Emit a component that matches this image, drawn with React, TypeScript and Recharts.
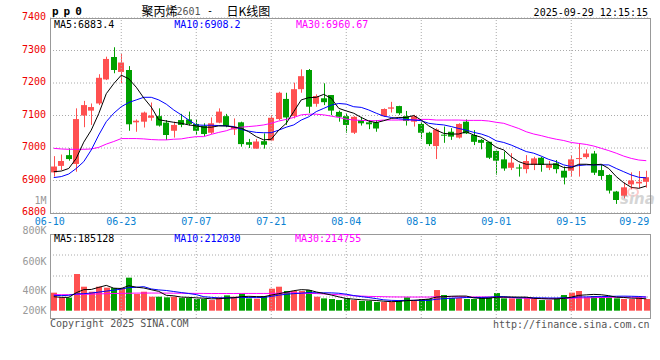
import { ComposedChart, Bar, Line, XAxis, YAxis, CartesianGrid, ReferenceLine } from "recharts"

const dates = [
  "06-10", "06-11", "06-12", "06-13", "06-16", "06-17", "06-18", "06-19", "06-20", "06-23",
  "06-24", "06-25", "06-26", "06-27", "06-30", "07-01", "07-02", "07-03", "07-04", "07-07",
  "07-08", "07-09", "07-10", "07-11", "07-14", "07-15", "07-16", "07-17", "07-18", "07-21",
  "07-22", "07-23", "07-24", "07-25", "07-28", "07-29", "07-30", "07-31", "08-01", "08-04",
  "08-05", "08-06", "08-07", "08-08", "08-11", "08-12", "08-13", "08-14", "08-15", "08-18",
  "08-19", "08-20", "08-21", "08-22", "08-25", "08-26", "08-27", "08-28", "08-29", "09-01",
  "09-02", "09-03", "09-04", "09-05", "09-08", "09-09", "09-10", "09-11", "09-12", "09-15",
  "09-16", "09-17", "09-18", "09-19", "09-22", "09-23", "09-24", "09-25", "09-26", "09-29",
]

const opens = [
  6925, 6945, 6978, 6951, 7100, 7115, 7137, 7211, 7280, 7234,
  7240, 7079, 7081, 7093, 7098, 7078, 7053, 7086, 7088, 7074,
  7068, 7047, 7078, 7098, 7057, 7079, 7018, 6998, 7021, 7023,
  7089, 7151, 7098, 7181, 7240, 7136, 7153, 7163, 7111, 7098,
  7047, 7086, 7079, 7079, 7098, 7121, 7129, 7098, 7081, 7074,
  7047, 7006, 7041, 7050, 7032, 7081, 7040, 7025, 7019, 6991,
  6965, 6939, 6940, 6935, 6948, 6970, 6939, 6953, 6930, 6930,
  6966, 6972, 6983, 6932, 6917, 6866, 6853, 6888, 6891, 6896,
]

const closes = [
  6943, 6960, 6966, 7089, 7132, 7126, 7216, 7274, 7240, 7263,
  7073, 7084, 7109, 7100, 7069, 7040, 7071, 7071, 7074, 7053,
  7043, 7076, 7112, 7068, 7066, 7012, 7010, 7020, 7010, 7093,
  7170, 7094, 7181, 7221, 7127, 7160, 7141, 7115, 7096, 7071,
  7096, 7076, 7073, 7060, 7120, 7125, 7107, 7083, 7098, 7047,
  7012, 7057, 7038, 7035, 7074, 7045, 7019, 7016, 6970, 6961,
  6937, 6955, 6938, 6960, 6968, 6948, 6948, 6935, 6909, 6965,
  6969, 6983, 6924, 6914, 6869, 6840, 6879, 6900, 6896, 6910,
]

const highs = [
  6975, 6980, 6999, 7122, 7145, 7137, 7227, 7281, 7310, 7289,
  7252, 7088, 7112, 7140, 7122, 7086, 7081, 7105, 7112, 7088,
  7076, 7094, 7122, 7105, 7091, 7081, 7028, 7028, 7045, 7101,
  7173, 7170, 7201, 7242, 7243, 7165, 7199, 7163, 7115, 7107,
  7098, 7096, 7086, 7086, 7122, 7142, 7130, 7114, 7102, 7081,
  7050, 7061, 7066, 7061, 7076, 7088, 7055, 7028, 7019, 6992,
  6989, 6984, 6950, 6978, 6973, 6973, 6960, 6963, 6943, 6978,
  7015, 6996, 6991, 6948, 6919, 6868, 6894, 6925, 6929, 6930,
]

const lows = [
  6912, 6932, 6961, 6927, 7064, 7071, 7132, 7209, 7230, 7200,
  7053, 7050, 7063, 7084, 7066, 7025, 7032, 7064, 7069, 7040,
  7037, 7043, 7076, 7064, 7040, 7004, 7000, 6998, 6998, 7021,
  7086, 7071, 7091, 7170, 7107, 7127, 7132, 7101, 7081, 7047,
  7043, 7069, 7058, 7050, 7096, 7109, 7102, 7069, 7066, 7028,
  7006, 6966, 7016, 7025, 7029, 7043, 7009, 6996, 6966, 6918,
  6930, 6932, 6912, 6922, 6932, 6927, 6932, 6922, 6888, 6912,
  6912, 6967, 6917, 6902, 6860, 6828, 6845, 6873, 6876, 6878,
]

const ma5 = [
  6927, 6929, 6937, 6968, 7018, 7055, 7106, 7167, 7198, 7224,
  7213, 7187, 7154, 7126, 7087, 7083, 7079, 7076, 7071, 7068,
  7064, 7064, 7068, 7068, 7064, 7061, 7050, 7035, 7025, 7027,
  7055, 7076, 7112, 7148, 7155, 7156, 7165, 7153, 7122, 7114,
  7107, 7094, 7083, 7078, 7084, 7091, 7094, 7094, 7100, 7086,
  7068, 7055, 7045, 7043, 7043, 7050, 7040, 7033, 7019, 7002,
  6994, 6973, 6958, 6950, 6950, 6950, 6950, 6950, 6940, 6939,
  6950, 6950, 6948, 6950, 6937, 6912, 6893, 6879, 6876, 6883,
]

const ma10 = [
  6909, 6912, 6920, 6937, 6958, 6994, 7040, 7081, 7107, 7127,
  7140, 7148, 7156, 7156, 7148, 7135, 7117, 7102, 7086, 7071,
  7070, 7070, 7069, 7068, 7066, 7057, 7052, 7048, 7047, 7047,
  7055, 7064, 7071, 7086, 7096, 7112, 7122, 7132, 7137, 7135,
  7127, 7125, 7117, 7107, 7098, 7094, 7090, 7088, 7086, 7084,
  7076, 7073, 7071, 7066, 7060, 7055, 7048, 7043, 7035, 7022,
  7017, 7009, 6999, 6989, 6984, 6975, 6965, 6958, 6948, 6943,
  6946, 6948, 6948, 6948, 6948, 6937, 6927, 6917, 6910, 6908,
]

const ma30 = [
  6999, 6997, 6996, 6996, 6996, 6997, 7002, 7012, 7020, 7029,
  7029, 7029, 7028, 7026, 7025, 7025, 7027, 7028, 7032, 7035,
  7035, 7042, 7048, 7053, 7061, 7064, 7066, 7068, 7071, 7076,
  7083, 7088, 7094, 7102, 7104, 7104, 7102, 7098, 7094, 7089,
  7086, 7085, 7084, 7084, 7086, 7086, 7086, 7086, 7086, 7088,
  7088, 7086, 7086, 7086, 7086, 7085, 7085, 7085, 7083, 7079,
  7076, 7068, 7060, 7050, 7043, 7038, 7032, 7027, 7023, 7017,
  7014, 7011, 7006, 6999, 6992, 6984, 6975, 6968, 6963, 6961,
]

// volume, in thousands of lots
const volumes = [
  281, 208, 203, 572, 374, 296, 374, 359, 353, 348,
  515, 260, 296, 218, 218, 208, 218, 197, 197, 182,
  182, 166, 208, 239, 218, 265, 192, 187, 229, 343,
  374, 307, 307, 307, 322, 218, 192, 182, 166, 192,
  166, 151, 151, 135, 135, 135, 166, 208, 166, 182,
  182, 322, 244, 197, 197, 182, 182, 203, 208, 275,
  192, 192, 192, 208, 182, 166, 166, 197, 244, 281,
  307, 208, 229, 218, 208, 192, 182, 182, 208, 182,
]

const volMa5 = [
  218, 208, 208, 281, 328, 331, 364, 395, 351, 346,
  390, 367, 354, 327, 301, 240, 232, 212, 208, 200,
  195, 185, 187, 195, 203, 219, 224, 220, 218, 243,
  265, 288, 312, 328, 323, 292, 269, 244, 216, 190,
  180, 171, 165, 159, 148, 141, 144, 156, 162, 171,
  181, 212, 219, 225, 228, 228, 200, 192, 194, 210,
  212, 214, 212, 212, 193, 188, 183, 184, 191, 211,
  239, 247, 254, 249, 234, 211, 206, 196, 194, 185,
]

const volMa10 = [
  240, 235, 240, 262, 265, 275, 290, 305, 320, 337,
  360, 365, 375, 339, 324, 315, 299, 283, 268, 251,
  218, 208, 199, 202, 202, 207, 205, 204, 207, 223,
  242, 256, 266, 273, 283, 279, 279, 278, 272, 257,
  236, 220, 205, 188, 169, 161, 158, 161, 161, 160,
  161, 178, 188, 194, 200, 205, 206, 206, 210, 219,
  220, 207, 202, 203, 202, 200, 198, 198, 201, 202,
  214, 215, 219, 220, 222, 225, 227, 225, 222, 212,
]

const volMa30 = [
  250, 250, 250, 252, 255, 258, 262, 265, 268, 270,
  272, 274, 275, 275, 275, 274, 273, 272, 271, 270,
  269, 268, 268, 268, 268, 269, 269, 269, 269, 270,
  273, 277, 280, 271, 270, 267, 261, 255, 249, 244,
  232, 228, 223, 221, 218, 215, 214, 214, 213, 213,
  213, 218, 219, 218, 217, 215, 214, 215, 214, 212,
  206, 202, 198, 195, 190, 188, 188, 188, 191, 194,
  198, 200, 203, 206, 208, 210, 210, 210, 211, 215,
]

const tickDates = ["06-10", "06-23", "07-07", "07-21", "08-04", "08-18", "09-01", "09-15", "09-29"]
const priceTicks = [6800, 6900, 7000, 7100, 7200, 7300, 7400]
const volAxisLabels = ["1M", "800K", "600K", "400K", "200K"]

const RED = "#ff5050"
const GREEN = "#00a000"
const BLUE = "#0000ff"
const MAGENTA = "#ff00ff"
const GRID = "#aaaaaa"
const BORDER = "#999999"
const MONO = '"DejaVu Sans Mono", monospace'
const CJK = '"Noto Sans CJK SC", sans-serif'

const rows = dates.map((date, i) => ({
  date,
  open: opens[i],
  high: highs[i],
  low: lows[i],
  close: closes[i],
  ma5: ma5[i],
  ma10: ma10[i],
  ma30: ma30[i],
  vol: volumes[i],
  vma5: volMa5[i],
  vma10: volMa10[i],
  vma30: volMa30[i],
}))

function Candle(props: any) {
  const { x, y, width, height, payload } = props
  if (!payload) return null
  const { open, close, high, low } = payload
  const top = Math.min(y, y + height)
  const h = Math.abs(height)
  const py = (v: number) => top + ((high - v) / (high - low)) * h
  const color = close >= open ? RED : GREEN
  const cx = Math.round(x + width / 2)
  const bodyTop = py(Math.max(open, close))
  const bodyH = Math.max(1, py(Math.min(open, close)) - bodyTop)
  return (
    <g>
      <line x1={cx + 0.5} x2={cx + 0.5} y1={top} y2={top + h} stroke={color} strokeWidth={1} />
      <rect x={cx - 3} y={bodyTop} width={6} height={bodyH} fill={color} />
    </g>
  )
}

function VolBar(props: any) {
  const { x, y, width, height, payload } = props
  if (!payload) return null
  const cx = Math.round(x + width / 2)
  return (
    <rect
      x={cx - 3}
      y={Math.min(y, y + height)}
      width={6}
      height={Math.abs(height)}
      fill={payload.close >= payload.open ? RED : GREEN}
    />
  )
}

function DateTick(props: any) {
  const { x, y, payload } = props
  const v = payload.value
  const first = v === tickDates[0]
  const last = v === tickDates[tickDates.length - 1]
  return (
    <text
      x={last ? x + 3 : first ? x - 4 : x}
      y={y + 8}
      textAnchor={last ? "end" : "middle"}
      dominantBaseline="central"
      fill="#0a82d2"
      fontSize={10}
      fontFamily={MONO}
    >
      {v}
    </text>
  )
}

function PriceTick(props: any) {
  const { x, y, payload } = props
  return (
    <text x={x} y={y - 1.5} textAnchor="end" dominantBaseline="central" fill="#ee0000" fontSize={10} fontFamily={MONO}>
      {payload.value}
    </text>
  )
}

const VOL_DOMAIN = [-114, 1196]

export default function App() {
  return (
    <div style={{ position: "absolute", left: 0, top: 0, width: 660, height: 360, background: "#fff", overflow: "hidden" }}>
      <div style={{ position: "absolute", left: 0, top: 0 }}>
        <ComposedChart width={660} height={232} data={rows} margin={{ top: 18, right: 10, bottom: 0, left: 0 }}>
          <CartesianGrid vertical={false} stroke={GRID} strokeDasharray="1 2" />
          <XAxis
            dataKey="date"
            ticks={tickDates}
            interval={0}
            height={19}
            tickSize={0}
            tickMargin={0}
            axisLine={false}
            tickLine={false}
            tick={(p: any) => <DateTick {...p} />}
          />
          <YAxis
            domain={[6800, 7400]}
            ticks={priceTicks}
            interval={0}
            allowDataOverflow
            width={50}
            tickSize={0}
            tickMargin={4}
            axisLine={false}
            tickLine={false}
            tick={(p: any) => <PriceTick {...p} />}
          />
          {tickDates.slice(1, -1).map((d) => (
            <ReferenceLine key={d} x={d} stroke={GRID} strokeDasharray="1 2" />
          ))}
          <Bar dataKey={(d: any) => [d.low, d.high]} barSize={7} shape={(p: any) => <Candle {...p} />} isAnimationActive={false} />
          <Line dataKey="ma30" stroke={MAGENTA} strokeWidth={1} dot={false} isAnimationActive={false} />
          <Line dataKey="ma10" stroke={BLUE} strokeWidth={1} dot={false} isAnimationActive={false} />
          <Line dataKey="ma5" stroke="#000" strokeWidth={1} dot={false} isAnimationActive={false} />
        </ComposedChart>
      </div>

      <div style={{ position: "absolute", left: 0, top: 234 }}>
        <ComposedChart width={660} height={84} data={rows} margin={{ top: 0, right: 10, bottom: 0, left: 0 }}>
          <CartesianGrid
            vertical={false}
            stroke={GRID}
            strokeDasharray="1 2"
            horizontalCoordinatesGenerator={({ offset }: any) =>
              offset ? [1, 2, 3].map((k) => offset.top + (offset.height * k) / 4) : []
            }
          />
          <XAxis dataKey="date" hide />
          <YAxis domain={VOL_DOMAIN} allowDataOverflow width={50} tick={false} axisLine={false} tickLine={false} />
          {tickDates.slice(1, -1).map((d) => (
            <ReferenceLine key={d} x={d} stroke={GRID} strokeDasharray="1 2" />
          ))}
          <Bar dataKey="vol" barSize={6} shape={(p: any) => <VolBar {...p} />} isAnimationActive={false} />
          <Line dataKey="vma30" stroke={MAGENTA} strokeWidth={1} dot={false} isAnimationActive={false} />
          <Line dataKey="vma10" stroke={BLUE} strokeWidth={1} dot={false} isAnimationActive={false} />
          <Line dataKey="vma5" stroke="#000" strokeWidth={1} dot={false} isAnimationActive={false} />
        </ComposedChart>
      </div>

      <svg width={660} height={360} style={{ position: "absolute", left: 0, top: 0, pointerEvents: "none" }}>
        <rect x={50.5} y={18.5} width={600} height={195} fill="none" stroke={BORDER} />
        <rect x={50.5} y={234.5} width={600} height={84} fill="none" stroke={BORDER} />

        <g fontFamily={MONO} fontSize={10} dominantBaseline="central">
          <text x={52} y={11} fontSize={11} fontWeight="bold" letterSpacing={5} fill="#000">pp0</text>
          <text x={141.5} y={10} fontFamily={CJK} fontSize={12} fill="#000">聚丙烯</text>
          <text x={176.5} y={11} fill="#555">2601</text>
          <text x={210} y={10} textAnchor="middle" fill="#000">-</text>
          <text x={226.5} y={10} fontFamily={CJK} fontSize={12} fill="#000">日K线图</text>
          <text x={648} y={12} textAnchor="end" fill="#000">2025-09-29 12:15:15</text>

          <text x={54} y={24} fill="#000">MA5:6883.4</text>
          <text x={174.3} y={24} fill={BLUE}>MA10:6908.2</text>
          <text x={296} y={24} fill={MAGENTA}>MA30:6960.67</text>

          {volAxisLabels.map((t, i) => (
            <text key={t} x={46.5} y={[200.7, 230.5, 261.5, 290.7, 310.7][i]} textAnchor="end" fill="#999">
              {t}
            </text>
          ))}

          <text x={54} y={238.5} fill="#000">MA5:185128</text>
          <text x={174.3} y={238.5} fill={BLUE}>MA10:212030</text>
          <text x={295} y={238.5} fill={MAGENTA}>MA30:214755</text>

          <text x={50} y={323.7} fill="#555">Copyright 2025 SINA.COM</text>
          <text x={649.5} y={324} textAnchor="end" fill="#555">http://finance.sina.com.cn</text>
        </g>

        <g opacity={0.35}>
          <ellipse cx={633} cy={192} rx={5} ry={4} fill="none" stroke="#ff6b6b" strokeWidth={2} />
          <text x={620} y={204} fontFamily="DejaVu Sans" fontStyle="italic" fontWeight="bold" fontSize={15} fill="#888">sina</text>
        </g>
      </svg>
    </div>
  )
}
